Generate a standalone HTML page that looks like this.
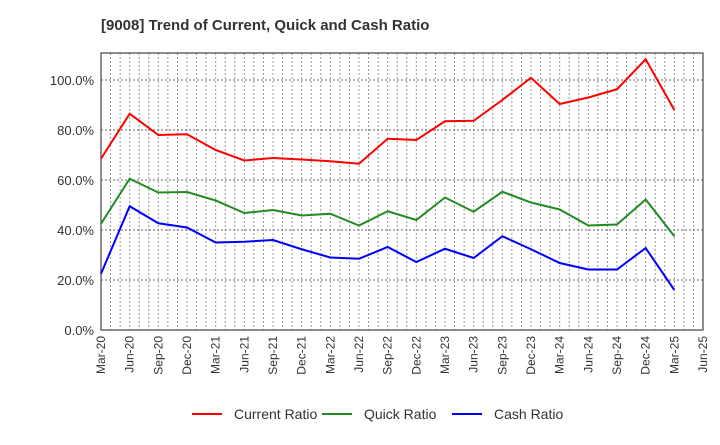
<!DOCTYPE html>
<html><head><meta charset="utf-8"><style>
body{margin:0;background:#fff;font-family:"Liberation Sans",sans-serif;}
</style></head><body>
<svg width="720" height="440" xmlns="http://www.w3.org/2000/svg">
<text x="101" y="30" font-size="15" font-weight="bold" fill="#333">[9008]  Trend of Current, Quick and Cash Ratio</text>
<g id="grid"></g><g id="axes"></g><g id="series"></g><g id="legend"></g>
</svg>
<script>
const categories=["Mar-20","Jun-20","Sep-20","Dec-20","Mar-21","Jun-21","Sep-21","Dec-21","Mar-22","Jun-22","Sep-22","Dec-22","Mar-23","Jun-23","Sep-23","Dec-23","Mar-24","Jun-24","Sep-24","Dec-24","Mar-25","Jun-25"];
const currentRatio=[68.5,86.5,78,78.3,72,67.8,68.8,68.2,67.5,66.5,76.5,76,83.5,83.7,92,100.9,90.4,93,96.3,108.3,88];
const quickRatio=[42.5,60.5,55,55.2,51.8,46.8,48,45.8,46.5,41.8,47.5,44,53,47.3,55.3,51,48.2,41.8,42.2,52.2,37.5];
const cashRatio=[22.5,49.5,42.7,41,35,35.3,36,32.3,29,28.5,33.2,27.2,32.5,28.8,37.5,32.3,26.8,24.2,24.2,32.8,16];
const yTicks=[0,20,40,60,80,100];
const NS="http://www.w3.org/2000/svg";
const L=101,R=703,T=53,B=330,YMAX=110.8;
const x=i=>L+(R-L)*i/(categories.length-1);
const y=v=>B-(B-T)*v/YMAX;
function mk(tag,attrs,parent){const e=document.createElementNS(NS,tag);for(const k in attrs)e.setAttribute(k,attrs[k]);document.getElementById(parent).appendChild(e);return e;}
// minor monthly grid
for(let m=1;m<(categories.length-1)*3;m++){const xx=L+(R-L)*m/((categories.length-1)*3);
const g=mk('line',{x1:xx,x2:xx,y1:T,y2:B,stroke:'#999','stroke-dasharray':'2,2','stroke-width':1},'grid');

}
yTicks.forEach(v=>{
if(v>0){const g=mk('line',{x1:L,x2:R,y1:y(v),y2:y(v),stroke:'#666','stroke-dasharray':'2,2','stroke-width':1},'grid');

}
const t=mk('text',{x:L-7,y:y(v)+5,'text-anchor':'end','font-size':13,fill:'#333'},'axes');
t.textContent=v.toFixed(1)+'%';


});
categories.forEach((c,i)=>{
const t=mk('text',{x:0,y:0,'text-anchor':'end','font-size':12,fill:'#333',transform:`translate(${x(i)+4},${B+6}) rotate(-90)`},'axes');
t.textContent=c;


});
const fr=mk('rect',{x:L,y:T,width:R-L,height:B-T,fill:'none',stroke:'#444','stroke-width':1.2},'axes');


const series=[["current-ratio",currentRatio,"#ff0000","Current Ratio"],["quick-ratio",quickRatio,"#228b22","Quick Ratio"],["cash-ratio",cashRatio,"#0000ff","Cash Ratio"]];
series.forEach((s,k)=>{
const p=mk('polyline',{points:s[1].map((v,i)=>x(i)+','+y(v)).join(' '),fill:'none',stroke:s[2],'stroke-width':2},'series');


const lx=[192,322,452][k];
const ll=mk('line',{x1:lx,x2:lx+30,y1:414,y2:414,stroke:s[2],'stroke-width':2},'legend');


const lt=mk('text',{x:lx+42,y:419,'font-size':14,fill:'#333'},'legend');
lt.textContent=s[3];


});
</script>
</body></html>
